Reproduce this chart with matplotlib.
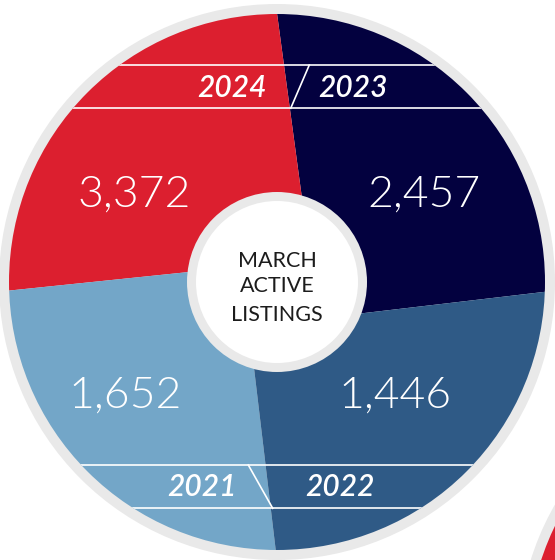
import numpy as np
import matplotlib
matplotlib.use("Agg")
import matplotlib.pyplot as plt
from matplotlib.patches import Circle, Wedge

# ---- data ----
years = ["2023", "2024", "2021", "2022"]          # slices in counter-clockwise order from the right arm
values = [2457, 3372, 1652, 1446]
title_lines = ["MARCH", "ACTIVE", "LISTINGS"]

# ---- styles ----
slice_colors = ["#03013F", "#DC1F2F", "#73A6C8", "#2F5A86"]
ring_gray = "#E9E9E9"
text_dark = "#1C1C1C"

# ---- layout (pixel units, y up) ----
W, H = 555, 560
C = np.array([277.0, 278.0])
R_ring, R = 278, 268
R_hole_ring, R_hole = 90, 81
arm_angles = [6.7, 97.7, 185.9, 276.8]   # pinwheel dividing arms
arm_offsets = [41.0, 36.0, 19.0, 33.0]

value_pos = [(424, 353), (134, 353), (125.5, 152), (394.5, 152)]
year_pos = [(318, 463.3, "left"), (267, 463.3, "right"), (237, 64.3, "right"), (305, 64.3, "left")]
banners = [(495.0, 451.7, (309.3, 290.7)), (95.0, 51.7, (248.3, 272.7))]
title_baselines = [293.3, 268.3, 239.3]

fig = plt.figure(figsize=(W / 100, H / 100), dpi=100)
ax = fig.add_axes([0, 0, 1, 1])
ax.set_xlim(0, W)
ax.set_ylim(0, H)
ax.axis("off")

# neighbouring chart peeking in at the corner
ax.add_patch(Circle((796, -83), R_ring, color=ring_gray, lw=0))
ax.add_patch(Circle((796, -83), R, color="#DC1F2F", lw=0))

ax.add_patch(Circle(C, R_ring, color=ring_gray, lw=0))
clip = Circle(C, R, transform=ax.transData, facecolor="none", edgecolor="none")
ax.add_patch(clip)


def normal(a):
    t = np.radians(a - 90)
    return np.array([np.cos(t), np.sin(t)])


for k in range(4):
    j = (k + 1) % 4
    A = np.vstack([normal(arm_angles[k]), normal(arm_angles[j])])
    b = np.array([arm_offsets[k], arm_offsets[j]])
    apex = C + np.linalg.solve(A, b)
    t1, t2 = arm_angles[k], arm_angles[j]
    if t2 < t1:
        t2 += 360
    w = Wedge(apex, 800, t1, t2, facecolor=slice_colors[k], lw=0)
    ax.add_patch(w)
    w.set_clip_path(clip)

# banner lines
for ytop, ybot, (xs_top, xs_bot) in banners:
    for yy in (ytop, ybot):
        ln, = ax.plot([0, W], [yy, yy], color="white", lw=1.2, solid_capstyle="butt")
        ln.set_clip_path(clip)
    ax.plot([xs_top, xs_bot], [ytop, ybot], color="white", lw=1.2)

# centre hole
ax.add_patch(Circle(C, R_hole_ring, color=ring_gray, lw=0))
ax.add_patch(Circle(C, R_hole, color="white", lw=0))

num_font = dict(family=["Lato", "DejaVu Sans"], fontweight=300, fontsize=32, color="white")
for v, (x, y) in zip(values, value_pos):
    ax.text(x, y, f"{v:,}", ha="center", va="baseline", **num_font)

for yr, (x, y, ha) in zip(years, year_pos):
    ax.text(x, y, yr, ha=ha, va="baseline", family=["Lato", "DejaVu Sans"],
            fontweight="semibold", fontstyle="italic", fontsize=21.5, color="white")

for t, y in zip(title_lines, title_baselines):
    ax.text(C[0], y, t, ha="center", va="baseline", family=["Lato", "DejaVu Sans"],
            fontweight="normal", fontsize=15.5, color=text_dark)

fig.savefig("out.png", dpi=100, facecolor="white")
